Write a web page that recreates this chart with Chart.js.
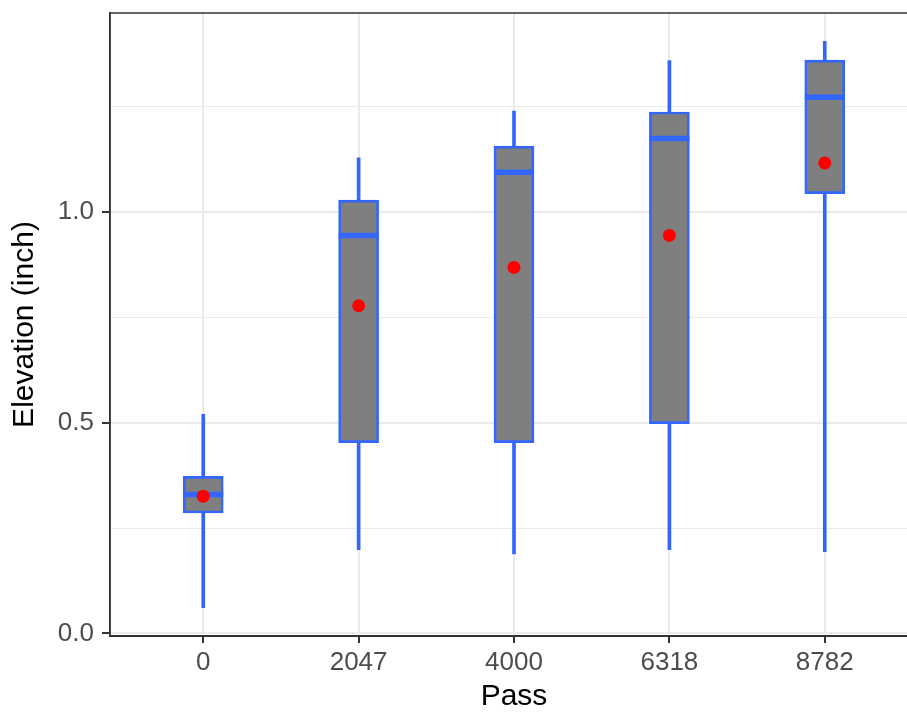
<!DOCTYPE html>
<html>
<head>
<meta charset="utf-8">
<script src="https://cdn.jsdelivr.net/npm/chart.js@4"></script>
<style>
  html, body { margin: 0; padding: 0; background: #fff; overflow: hidden; }
</style>
</head>
<body>
<canvas id="boxChart" width="918" height="715"></canvas>
<script>
// pass counts on the x axis
var passLabels = ['0', '2047', '4000', '6318', '8782'];

// box plot summaries (elevation, inch)
var whiskerLow  = [0.061, 0.199, 0.189, 0.199, 0.194];
var lowerQuart  = [0.286, 0.453, 0.453, 0.498, 1.044];
var medians     = [0.330, 0.945, 1.095, 1.175, 1.273];
var upperQuart  = [0.373, 1.029, 1.157, 1.238, 1.361];
var whiskerHigh = [0.520, 1.129, 1.240, 1.360, 1.406];
var means       = [0.326, 0.778, 0.869, 0.945, 1.117];

var yTicks = [0, 0.25, 0.5, 0.75, 1.0, 1.25];

var blue = '#3366FF';
var fontFamily = "'Liberation Sans', Arial, sans-serif";

function isMajor(v) {
    return Math.round(v * 100) % 50 === 0;
}

// panel border (theme_bw style)
var panelBorder = {
    id: 'panelBorder',
    afterDatasetsDraw: function(chart) {
        var a = chart.chartArea;
        var ctx = chart.ctx;
        ctx.save();
        ctx.strokeStyle = '#333333';
        ctx.lineWidth = 1.5;
        ctx.strokeRect(a.left, a.top, a.right - a.left, a.bottom - a.top);
        ctx.restore();
    }
};

var chart = new Chart(document.getElementById('boxChart'), {
    data: {
        datasets: [{
            type: 'bar',
            label: 'whisker',
            data: passLabels.map((_, i) => ({ x: i, y: [whiskerLow[i], whiskerHigh[i]] })),
            backgroundColor: blue,
            borderWidth: 0,
            barThickness: 3,
            grouped: false,
            order: 4
        }, {
            type: 'bar',
            label: 'box',
            data: passLabels.map((_, i) => ({ x: i, y: [lowerQuart[i], upperQuart[i]] })),
            backgroundColor: '#7F7F7F',
            borderColor: blue,
            borderWidth: 2.7,
            borderSkipped: false,
            barThickness: 40,
            grouped: false,
            order: 3
        }, {
            type: 'scatter',
            label: 'median',
            data: passLabels.map((_, i) => ({ x: i, y: medians[i] })),
            pointStyle: 'line',
            pointRadius: 20,
            borderColor: blue,
            borderWidth: 5.5,
            order: 2
        }, {
            type: 'scatter',
            label: 'mean',
            data: passLabels.map((_, i) => ({ x: i, y: means[i] })),
            pointStyle: 'circle',
            pointRadius: 6.5,
            backgroundColor: '#FF0000',
            borderWidth: 0,
            order: 1
        }]
    },
    options: {
        responsive: false,
        animation: false,
        layout: { autoPadding: false, padding: { top: 13, right: 0, left: 0, bottom: 0 } },
        plugins: {
            legend: { display: false },
            tooltip: { enabled: false }
        },
        scales: {
            x: {
                type: 'linear',
                min: -0.6,
                max: 4.6,
                offset: false,
                afterBuildTicks: function(scale) {
                    scale.ticks = passLabels.map((_, i) => ({ value: i }));
                },
                afterFit: function(scale) {
                    scale.height = 79;
                    scale.paddingLeft = 0;
                    scale.paddingRight = 0;
                },
                ticks: {
                    callback: function(v) { return passLabels[v]; },
                    color: '#4D4D4D',
                    font: { family: fontFamily, size: 26 },
                    padding: 4,
                    maxRotation: 0
                },
                grid: {
                    offset: false,
                    color: '#EBEBEB',
                    lineWidth: 2,
                    tickColor: '#333333',
                    tickWidth: 2,
                    tickLength: 7
                },
                border: { color: '#333333', width: 2 },
                title: {
                    display: true,
                    text: 'Pass',
                    color: '#000000',
                    font: { family: fontFamily, size: 30 },
                    padding: { top: 0, bottom: 0 }
                }
            },
            y: {
                min: -0.006,
                max: 1.473,
                afterBuildTicks: function(scale) {
                    scale.ticks = yTicks.map(v => ({ value: v }));
                },
                afterFit: function(scale) {
                    scale.width = 110;
                    scale.paddingTop = 0;
                    scale.paddingBottom = 0;
                },
                ticks: {
                    callback: function(v) { return isMajor(v) ? v.toFixed(1) : ''; },
                    color: '#4D4D4D',
                    font: { family: fontFamily, size: 26 },
                    padding: 8
                },
                grid: {
                    color: '#EBEBEB',
                    lineWidth: function(ctx) {
                        return (ctx.tick && isMajor(ctx.tick.value)) ? 2 : 1.1;
                    },
                    tickColor: function(ctx) {
                        return (ctx.tick && isMajor(ctx.tick.value)) ? '#333333' : 'rgba(0,0,0,0)';
                    },
                    tickWidth: 2,
                    tickLength: 8
                },
                border: { color: '#333333', width: 1.5 },
                title: {
                    display: true,
                    text: 'Elevation (inch)',
                    color: '#000000',
                    font: { family: fontFamily, size: 30 },
                    padding: { top: 7, bottom: 0 }
                }
            }
        }
    },
    plugins: [panelBorder]
});
</script>
</body>
</html>
